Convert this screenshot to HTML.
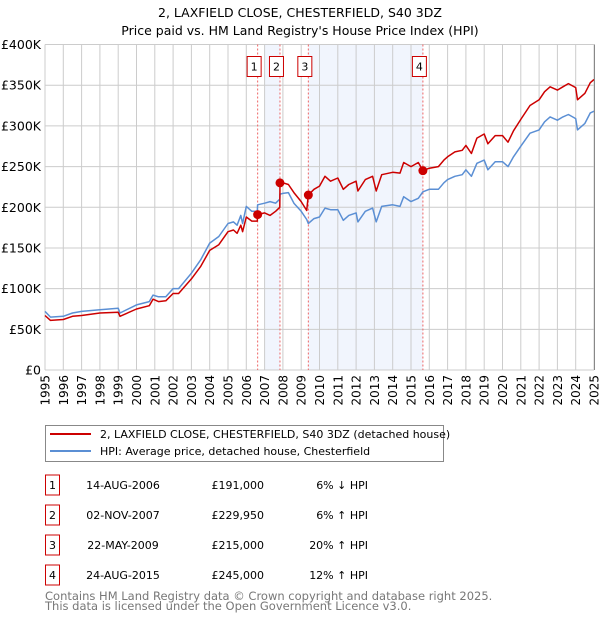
<!DOCTYPE html>
<html><head><meta charset="utf-8"><style>
body{margin:0;background:#fff;width:600px;height:620px;overflow:hidden;font-family:"DejaVu Sans","Liberation Sans",sans-serif;}
</style></head><body>
<svg width="600" height="620" xmlns="http://www.w3.org/2000/svg" font-family="DejaVu Sans, Liberation Sans, sans-serif">
<text x="300" y="17" text-anchor="middle" font-size="12.5">2, LAXFIELD CLOSE, CHESTERFIELD, S40 3DZ</text>
<text x="300" y="35" text-anchor="middle" font-size="12.5">Price paid vs. HM Land Registry's House Price Index (HPI)</text>
<g id="plot"></g>
<g>
<rect x="45.5" y="425.5" width="398" height="36" fill="#fff" stroke="#888"/>
<line x1="50" y1="434" x2="91" y2="434" stroke="#cc0000" stroke-width="2"/>
<text x="100" y="438" font-size="11">2, LAXFIELD CLOSE, CHESTERFIELD, S40 3DZ (detached house)</text>
<line x1="50" y1="451" x2="91" y2="451" stroke="#5b8fd4" stroke-width="2"/>
<text x="100" y="455" font-size="11">HPI: Average price, detached house, Chesterfield</text>
</g>
<g id="table" font-size="11"></g>
<text x="45" y="600" font-size="11.5" fill="#777">Contains HM Land Registry data © Crown copyright and database right 2025.</text>
<text x="45" y="610" font-size="11.5" fill="#777">This data is licensed under the Open Government Licence v3.0.</text>
</svg>
<script>
const years=[1995,1995.3,1996,1996.5,1997,1998,1999,1999.1,2000,2000.7,2000.9,2001.2,2001.6,2002,2002.3,2003,2003.5,2004,2004.5,2005,2005.3,2005.5,2005.7,2005.8,2006,2006.3,2006.6,2006.62,2007,2007.3,2007.6,2007.83,2007.84,2008,2008.3,2008.6,2009,2009.3,2009.39,2009.7,2010,2010.3,2010.6,2011,2011.3,2011.6,2012,2012.1,2012.5,2012.9,2013.1,2013.4,2014,2014.4,2014.6,2015,2015.4,2015.65,2016,2016.5,2016.8,2017,2017.4,2017.8,2018,2018.3,2018.6,2019,2019.2,2019.6,2020,2020.3,2020.6,2021,2021.5,2022,2022.3,2022.6,2023,2023.3,2023.6,2024,2024.1,2024.5,2024.8,2025];
const hpiValues=[72,65,66,70,72,74,76,70,80,84,92,90,90,100,100,119,135,156,164,180,182,178,190,180,201,195,195,203,205,207,205,210,216,217,218,205,195,185,180,186,188,199,197,197,184,190,193,182,195,199,182,201,203,201,213,207,211,219,222,222,230,234,238,240,246,238,254,258,246,256,256,250,262,275,291,295,305,311,307,311,314,309,295,303,316,318];
const propertyValues=[67,61,62,66,67,70,71,66,75,79,87,84,85,94,94,112,127,147,154,170,172,168,178,170,188,183,183,191,193,190,195,200,230,230,228,218,207,196,215,222,226,238,232,236,222,228,232,220,234,238,220,240,243,242,255,250,255,245,248,250,258,262,268,270,276,266,285,290,278,288,288,280,294,308,325,332,342,348,344,348,352,347,332,340,353,357];
const saleYears=[2006.62,2007.84,2009.39,2015.65];
const salePrices=[191,229.95,215,245];
const saleDates=["14-AUG-2006","02-NOV-2007","22-MAY-2009","24-AUG-2015"];
const salePriceLabels=["£191,000","£229,950","£215,000","£245,000"];
const saleHpiLabels=["6% ↓ HPI","6% ↑ HPI","20% ↑ HPI","12% ↑ HPI"];
const yTicks=[0,50,100,150,200,250,300,350,400];
const yTickLabels=["£0","£50K","£100K","£150K","£200K","£250K","£300K","£350K","£400K"];
const shadeRanges=[[2007,2007.84],[2009.39,2015.65]];

const X0=45,X1=594,Y0=370,Y1=44.5;
const xs=y=>X0+(y-1995)/30*(X1-X0);
const ys=v=>Y0-v/400*(Y0-Y1);
const NS='http://www.w3.org/2000/svg';
const plot=document.getElementById('plot');
function mk(tag,attrs,parent){const e=document.createElementNS(NS,tag);for(const k in attrs)e.setAttribute(k,attrs[k]);(parent||plot).appendChild(e);return e;}

shadeRanges.forEach(r=>{
 const e=mk('rect',{x:xs(r[0]),y:Y1,width:xs(r[1])-xs(r[0]),height:Y0-Y1,fill:'#eef3fd',opacity:0.8});
 
 
});
for(let yr=1995;yr<=2025;yr++){
 const e=mk('line',{x1:xs(yr),x2:xs(yr),y1:Y1,y2:Y0,stroke:'#ccc','stroke-width':1});
 
 
 const t=mk('text',{x:0,y:0,'font-size':12,'text-anchor':'end',transform:`translate(${xs(yr)+4.5},${Y0+5}) rotate(-90)`});
 t.textContent=yr;
 
 
}
yTicks.forEach((v,i)=>{
 const e=mk('line',{x1:X0,x2:X1,y1:ys(v),y2:ys(v),stroke:'#ccc','stroke-width':1});
 
 
 const t=mk('text',{x:X0-4,y:ys(v)+4.5,'font-size':12.5,'text-anchor':'end'});
 t.textContent=yTickLabels[i];
 
 
});
saleYears.forEach((yr,i)=>{
 const l=mk('line',{x1:xs(yr),x2:xs(yr),y1:Y1,y2:Y0,stroke:'#ee6666','stroke-width':1,'stroke-dasharray':'2,2'});
 
 
});
function path(vals,color,name){
 const d=years.map((y,i)=>(i?'L':'M')+xs(y).toFixed(1)+','+ys(vals[i]).toFixed(1)).join('');
 const p=mk('path',{d:d,fill:'none',stroke:color,'stroke-width':1.5,'stroke-linejoin':'round'});
 
 
}
path(hpiValues,'#5b8fd4','hpi-line');
path(propertyValues,'#cc0000','property-price-line');
saleYears.forEach((yr,i)=>{
 const c=mk('circle',{cx:xs(yr),cy:ys(salePrices[i]),r:4.5,fill:'#cc0000'});
 
 
 const g=mk('g',{});
 
 
 mk('rect',{x:xs(yr)-10.5,y:56.5,width:14,height:20,fill:'#fff',stroke:'#cc0000'},g);
 const t=mk('text',{x:xs(yr)-3.5,y:70.5,'font-size':11,'text-anchor':'middle'},g);
 t.textContent=i+1;
});
mk('line',{x1:X1+0.5,x2:X1+0.5,y1:Y1,y2:Y0,stroke:'#888'});
const tbl=document.getElementById('table');
saleDates.forEach((d,i)=>{
 const cy=485+i*30;
 const row=mk('g',{},tbl);
 
 
 mk('rect',{x:45.5,y:cy-10,width:14,height:20,fill:'#fff',stroke:'#cc0000'},row);
 const n=mk('text',{x:52.5,y:cy+4,'text-anchor':'middle'},row);n.textContent=i+1;
 const a=mk('text',{x:123,y:cy+4,'text-anchor':'middle'},row);a.textContent=d;
 const b=mk('text',{x:264,y:cy+4,'text-anchor':'end'},row);b.textContent=salePriceLabels[i];
 const c=mk('text',{x:368,y:cy+4,'text-anchor':'end'},row);c.textContent=saleHpiLabels[i];
});
</script>
</body></html>
